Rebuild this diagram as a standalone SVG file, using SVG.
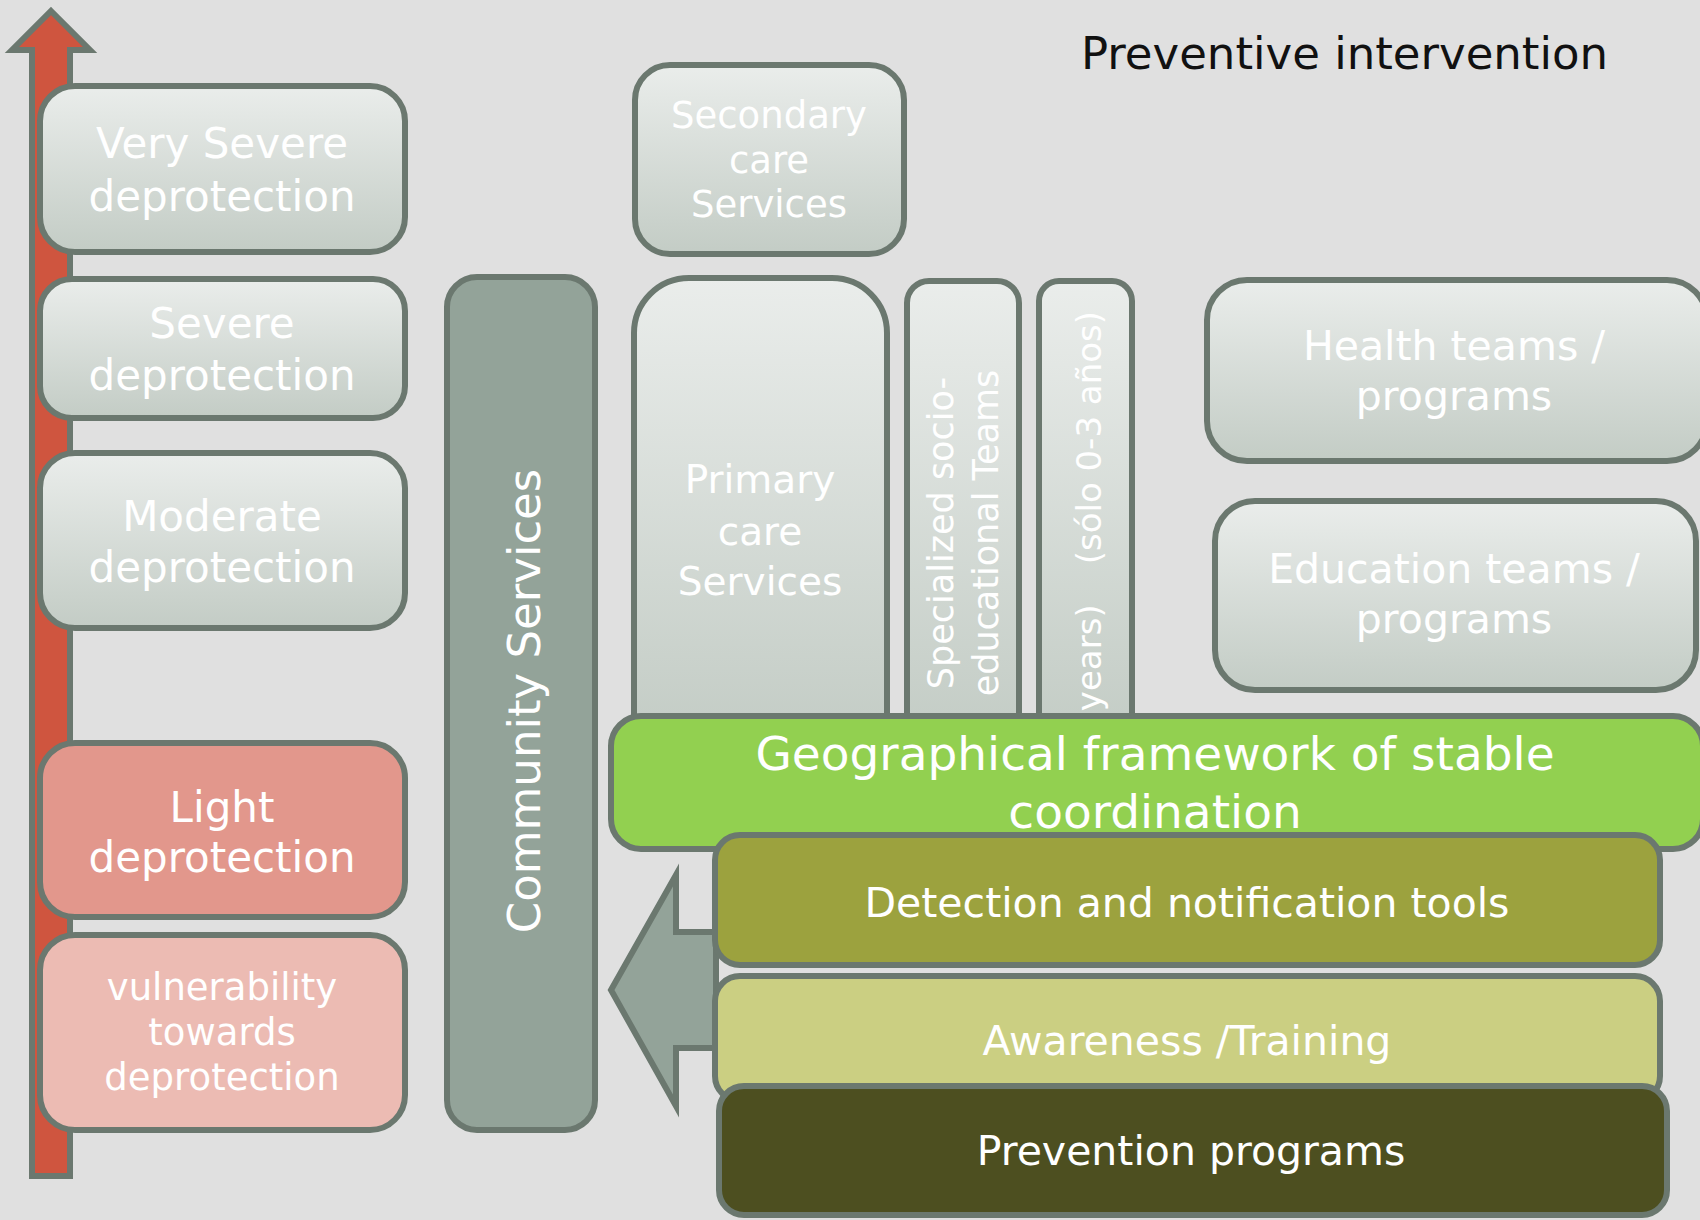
<svg xmlns="http://www.w3.org/2000/svg" width="1700" height="1220" viewBox="0 0 1700 1220">
<defs>
<linearGradient id="gg" x1="0" y1="0" x2="0" y2="1">
<stop offset="0" stop-color="#eaedeb"/>
<stop offset="1" stop-color="#c3ccc5"/>
</linearGradient>
<style>
.bx{stroke:#6b786f;stroke-width:6}
.gray{fill:url(#gg)}
.t{font-family:"DejaVu Sans",sans-serif;fill:#ffffff;text-anchor:middle}
</style>
</defs>
<rect x="0" y="0" width="1700" height="1220" fill="#e0e0e0"/>

<g id="severity-arrow">
<polygon class="bx" points="51,11 90,50 70,50 70,1176 32,1176 32,50 12,50" fill="#cf553f" stroke-linejoin="miter"/>
</g>

<g id="very-severe">
<rect class="bx gray" x="40" y="86" width="365" height="166" rx="35"/>
<text class="t" font-size="42" x="222" y="158">Very Severe</text>
<text class="t" font-size="42" x="222" y="211">deprotection</text>
</g>
<g id="severe">
<rect class="bx gray" x="40" y="279" width="365" height="139" rx="32"/>
<text class="t" font-size="42" x="222" y="338">Severe</text>
<text class="t" font-size="42" x="222" y="390">deprotection</text>
</g>
<g id="moderate">
<rect class="bx gray" x="40" y="453" width="365" height="175" rx="35"/>
<text class="t" font-size="42" x="222" y="531">Moderate</text>
<text class="t" font-size="42" x="222" y="582">deprotection</text>
</g>
<g id="light">
<rect class="bx" x="40" y="743" width="365" height="174" rx="35" fill="#e2978c"/>
<text class="t" font-size="42" x="222" y="822">Light</text>
<text class="t" font-size="42" x="222" y="872">deprotection</text>
</g>
<g id="vulnerability">
<rect class="bx" x="40" y="935" width="365" height="195" rx="35" fill="#ecbbb3"/>
<text class="t" font-size="37" x="222" y="1000">vulnerability</text>
<text class="t" font-size="37" x="222" y="1045">towards</text>
<text class="t" font-size="37" x="222" y="1090">deprotection</text>
</g>

<g id="community-services">
<rect class="bx" x="447" y="277" width="148" height="853" rx="30" fill="#93a399"/>
<text class="t" font-size="45" transform="translate(540,701) rotate(-90)">Community Services</text>
</g>

<g id="secondary-care">
<rect class="bx gray" x="635" y="65" width="269" height="189" rx="35"/>
<text class="t" font-size="37" x="769" y="128">Secondary</text>
<text class="t" font-size="37" x="769" y="173">care</text>
<text class="t" font-size="37" x="769" y="217">Services</text>
</g>

<g id="primary-care">
<path class="bx gray" d="M634,740 V333 A55,55 0 0 1 689,278 H832 A55,55 0 0 1 887,333 V740 Z"/>
<text class="t" font-size="39" x="760" y="493">Primary</text>
<text class="t" font-size="39" x="760" y="545">care</text>
<text class="t" font-size="39" x="760" y="595">Services</text>
</g>

<g id="specialized-teams">
<path class="bx gray" d="M907,740 V303 A22,22 0 0 1 929,281 H997 A22,22 0 0 1 1019,303 V740 Z"/>
<text class="t" font-size="35" transform="translate(953,533) rotate(-90)">Specialized socio-</text>
<text class="t" font-size="35" transform="translate(998,533) rotate(-90)">educational Teams</text>
</g>

<g id="early-care">
<path class="bx gray" d="M1039,740 V301 A20,20 0 0 1 1059,281 H1112 A20,20 0 0 1 1132,301 V740 Z"/>
<text class="t" font-size="34" style="text-anchor:end" transform="translate(1101,311) rotate(-90)">years)<tspan dx="40">(sólo 0-3 años)</tspan></text>
</g>

<g id="health-teams">
<rect class="bx gray" x="1207" y="280" width="500" height="181" rx="40"/>
<text class="t" font-size="41" x="1454" y="360">Health teams /</text>
<text class="t" font-size="41" x="1454" y="410">programs</text>
</g>

<g id="education-teams">
<rect class="bx gray" x="1215" y="501" width="481" height="189" rx="40"/>
<text class="t" font-size="41" x="1454" y="583">Education teams /</text>
<text class="t" font-size="41" x="1454" y="633">programs</text>
</g>

<g id="title">
<text x="1081" y="69" font-family="DejaVu Sans, sans-serif" font-size="45" fill="#111111">Preventive intervention</text>
</g>

<g id="geographical-framework">
<rect class="bx" x="611" y="716" width="1092" height="133" rx="30" fill="#92d050"/>
<text class="t" font-size="47" x="1155" y="770">Geographical framework of stable</text>
<text class="t" font-size="47" x="1155" y="828">coordination</text>
</g>

<g id="connectors">
<polygon class="bx" points="611,990 676,875 676,932 716,932 716,1048 676,1048 676,1106" fill="#93a399"/>
</g>

<g id="detection-tools">
<rect class="bx" x="715" y="835" width="945" height="130" rx="25" fill="#9ca23e"/>
<text class="t" font-size="41" x="1187" y="917">Detection and notification tools</text>
</g>
<g id="awareness-training">
<rect class="bx" x="715" y="976" width="945" height="125" rx="25" fill="#cbcf82"/>
<text class="t" font-size="41" x="1187" y="1055">Awareness /Training</text>
</g>
<g id="prevention-programs">
<rect class="bx" x="719" y="1086" width="948" height="129" rx="25" fill="#4d4f20"/>
<text class="t" font-size="41" x="1191" y="1165">Prevention programs</text>
</g>
</svg>
